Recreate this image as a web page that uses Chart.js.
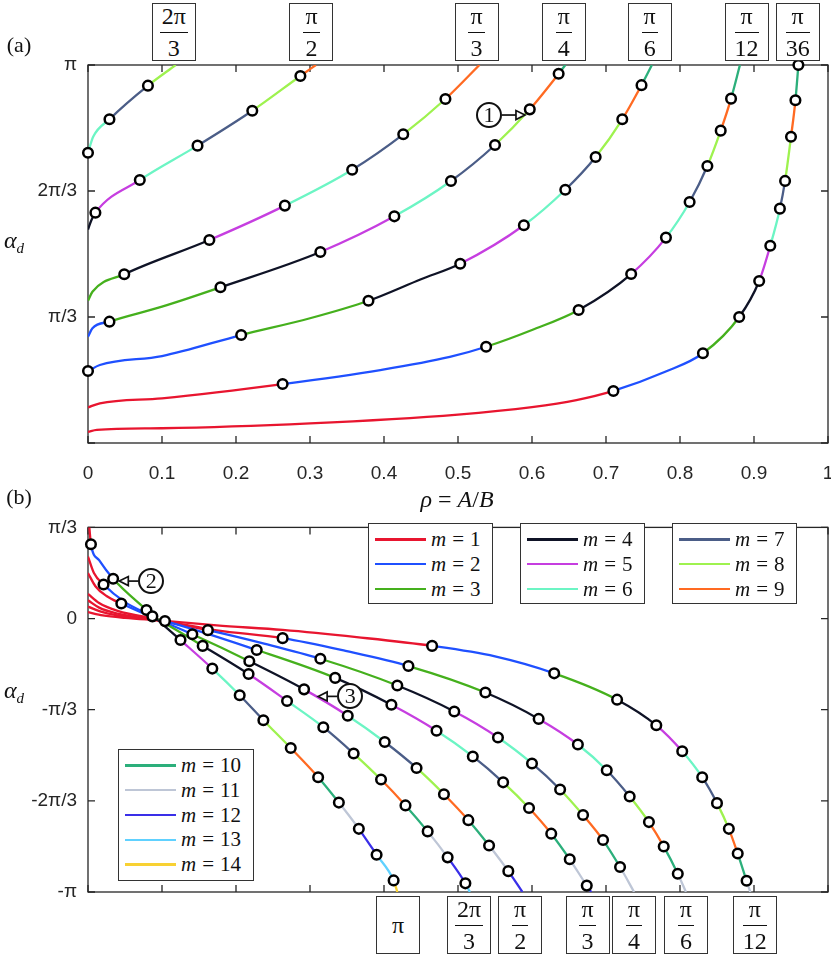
<!DOCTYPE html>
<html>
<head>
<meta charset="utf-8">
<title>alpha_d against rho</title>
<script src="https://cdn.jsdelivr.net/npm/chart.js@4.4.1/dist/chart.umd.min.js"></script>
<style>
  html, body { margin: 0; padding: 0; background: #fff; }
  body { position: relative; width: 831px; height: 955px; overflow: hidden; font-family: "Liberation Serif", "DejaVu Serif", serif; color: #111; }
  canvas { position: absolute; left: 0; }
  #chart-a { top: 0; }
  #chart-b { top: 505px; }
  .txt { position: absolute; white-space: nowrap; line-height: 1; transform: translate(-50%, -50%); }
  .box { position: absolute; width: 44px; height: 58px; border: 1.4px solid #333; background: #fff; box-sizing: border-box; display: flex; align-items: center; justify-content: center; font-size: 24px; }
  .fr { display: inline-flex; flex-direction: column; text-align: center; line-height: 1; }
  .fr .n { border-bottom: 1.3px solid #111; padding: 0 2px 4px; }
  .fr .d { padding-top: 3px; }
  .legend { position: absolute; border: 1.4px solid #333; background: #fff; box-sizing: border-box; padding-top: 3px; font-size: 21px; }
  .legend .row { height: 24.8px; display: flex; align-items: center; }
  .legend .swatch { width: 51px; height: 2.5px; margin: 0 5px 0 6px; }
  .legend .eq { margin: 0 6px; }
  .note { position: absolute; width: 26px; height: 26px; border: 2px solid #111; border-radius: 50%; box-sizing: border-box; display: flex; align-items: center; justify-content: center; font-size: 22px; background: #fff; }
</style>
</head>
<body>
<canvas id="chart-a" width="870" height="505"></canvas>
<canvas id="chart-b" width="870" height="450"></canvas>
<script>
// alpha_d is kept in units of pi/3, x is rho = A/B
// each point: [rho, alpha_d, m of the piece starting here, 1 = boundary marker]

// panel (a)
const a_2pi3 = [[0, 2.304, 6, 1], [0.007, 2.43, 6, 0], [0.029, 2.569, 7, 1], [0.081, 2.836, 8, 1], [0.1185, 3.0, 8, 0]];
const a_pi2 = [[0, 1.694, 4, 0], [0.004, 1.76, 4, 0], [0.01, 1.828, 5, 1], [0.07, 2.087, 6, 1], [0.148, 2.36, 7, 1],
  [0.222, 2.637, 8, 1], [0.287, 2.913, 9, 1], [0.308, 3.0, 9, 0]];
const a_pi3 = [[0, 1.129, 3, 0], [0.006, 1.2, 3, 0], [0.049, 1.339, 4, 1], [0.164, 1.611, 5, 1], [0.266, 1.884, 6, 1],
  [0.357, 2.169, 7, 1], [0.426, 2.45, 8, 1], [0.483, 2.73, 9, 1], [0.529, 3.0, 9, 0]];
const a_pi4 = [[0, 0.844, 2, 0], [0.006, 0.91, 2, 0], [0.029, 0.963, 3, 1], [0.1, 1.082, 3, 0], [0.179, 1.236, 4, 1],
  [0.314, 1.516, 5, 1], [0.414, 1.799, 6, 1], [0.4905, 2.079, 7, 1], [0.55, 2.365, 8, 1], [0.597, 2.648, 9, 1],
  [0.636, 2.93, 10, 1], [0.645, 3.0, 10, 0]];
const a_pi6 = [[0, 0.571, 2, 1], [0.016, 0.619, 2, 0], [0.1, 0.69, 2, 0], [0.207, 0.857, 3, 1], [0.3, 0.99, 3, 0],
  [0.379, 1.129, 4, 1], [0.45, 1.3, 4, 0], [0.503, 1.423, 5, 1], [0.589, 1.728, 6, 1], [0.645, 2.01, 7, 1],
  [0.686, 2.27, 8, 1], [0.722, 2.569, 9, 1], [0.748, 2.84, 10, 1], [0.762, 3.0, 10, 0]];
const a_pi12 = [[0, 0.283, 1, 0], [0.016, 0.315, 1, 0], [0.1, 0.355, 1, 0], [0.263, 0.468, 2, 1], [0.395, 0.579, 2, 0],
  [0.489, 0.683, 2, 0], [0.538, 0.764, 3, 1], [0.6, 0.897, 3, 0], [0.663, 1.056, 4, 1], [0.734, 1.341, 5, 1],
  [0.781, 1.63, 6, 1], [0.813, 1.913, 7, 1], [0.837, 2.198, 8, 1], [0.855, 2.479, 9, 1], [0.869, 2.733, 10, 1],
  [0.881, 3.0, 10, 0]];
const a_pi36 = [[0, 0.088, 1, 0], [0.012, 0.104, 1, 0], [0.1, 0.117, 1, 0], [0.3, 0.156, 1, 0], [0.5, 0.226, 1, 0],
  [0.6, 0.285, 1, 0], [0.66, 0.34, 1, 0], [0.71, 0.413, 2, 1], [0.78, 0.565, 2, 0], [0.831, 0.712, 3, 1],
  [0.88, 1.0, 4, 1], [0.907, 1.286, 5, 1], [0.922, 1.566, 6, 1], [0.935, 1.86, 7, 1], [0.942, 2.08, 8, 1],
  [0.95, 2.43, 9, 1], [0.956, 2.72, 10, 1], [0.96, 3.0, 11, 1]];

// panel (b)
const b_pi = [[0, 1.15, 1, 0], [0.0018, 1.0, 1, 0], [0.004, 0.815, 2, 1], [0.015, 0.64, 2, 0], [0.034, 0.436, 3, 1],
  [0.079, 0.094, 4, 1], [0.125, -0.236, 5, 1], [0.168, -0.549, 6, 1], [0.205, -0.841, 7, 1], [0.237, -1.115, 8, 1],
  [0.274, -1.421, 9, 1], [0.311, -1.741, 10, 1], [0.339, -2.019, 11, 1], [0.366, -2.307, 12, 1], [0.39, -2.592, 13, 1],
  [0.413, -2.873, 14, 1], [0.418, -3.0, 14, 0]];
const b_2pi3 = [[0, 0.68, 1, 0], [0.008, 0.5, 1, 0], [0.021, 0.373, 2, 1], [0.05, 0.18, 2, 0], [0.087, 0.024, 3, 1],
  [0.155, -0.3, 4, 1], [0.217, -0.609, 5, 1], [0.269, -0.904, 6, 1], [0.318, -1.192, 7, 1], [0.359, -1.481, 8, 1],
  [0.396, -1.766, 9, 1], [0.429, -2.05, 10, 1], [0.459, -2.335, 11, 1], [0.486, -2.62, 12, 1], [0.51, -2.905, 13, 1],
  [0.516, -3.0, 13, 0]];
const b_pi2 = [[0, 0.5, 1, 0], [0.01, 0.355, 1, 0], [0.025, 0.248, 1, 0], [0.045, 0.165, 2, 1], [0.141, -0.173, 3, 1],
  [0.218, -0.468, 4, 1], [0.292, -0.777, 5, 1], [0.351, -1.066, 6, 1], [0.401, -1.354, 7, 1], [0.444, -1.639, 8, 1],
  [0.481, -1.927, 9, 1], [0.514, -2.212, 10, 1], [0.542, -2.49, 11, 1], [0.568, -2.771, 12, 1], [0.587, -3.0, 12, 0]];
const b_pi3 = [[0, 0.27, 1, 0], [0.015, 0.17, 1, 0], [0.04, 0.085, 1, 0], [0.104, -0.028, 2, 1], [0.228, -0.345, 3, 1],
  [0.334, -0.651, 4, 1], [0.41, -0.946, 5, 1], [0.471, -1.231, 6, 1], [0.52, -1.513, 7, 1], [0.561, -1.797, 8, 1],
  [0.596, -2.078, 9, 1], [0.626, -2.36, 10, 1], [0.651, -2.641, 11, 1], [0.674, -2.93, 12, 1], [0.68, -3.0, 12, 0]];
const b_pi4 = [[0, 0.2, 1, 0], [0.015, 0.12, 1, 0], [0.04, 0.055, 1, 0], [0.1, -0.027, 1, 0], [0.162, -0.127, 2, 1],
  [0.238, -0.275, 2, 0], [0.314, -0.441, 3, 1], [0.418, -0.735, 4, 1], [0.495, -1.02, 5, 1], [0.554, -1.305, 6, 1],
  [0.6, -1.59, 7, 1], [0.638, -1.875, 8, 1], [0.669, -2.156, 9, 1], [0.696, -2.43, 10, 1], [0.719, -2.726, 11, 1],
  [0.738, -3.0, 11, 0]];
const b_pi6 = [[0, 0.13, 1, 0], [0.02, 0.07, 1, 0], [0.05, 0.02, 1, 0], [0.1, -0.025, 1, 0], [0.174, -0.13, 1, 0],
  [0.263, -0.215, 2, 1], [0.348, -0.355, 2, 0], [0.433, -0.521, 3, 1], [0.537, -0.812, 4, 1], [0.609, -1.101, 5, 1],
  [0.662, -1.382, 6, 1], [0.701, -1.664, 7, 1], [0.732, -1.952, 8, 1], [0.758, -2.233, 9, 1], [0.778, -2.5, 10, 1],
  [0.797, -2.8, 11, 1], [0.808, -3.0, 11, 0]];
const b_pi12 = [[0, 0.07, 1, 0], [0.02, 0.035, 1, 0], [0.05, 0.008, 1, 0], [0.1, -0.022, 1, 0], [0.174, -0.075, 1, 0],
  [0.263, -0.125, 1, 0], [0.363, -0.204, 1, 0], [0.465, -0.3, 2, 1], [0.55, -0.415, 2, 0], [0.63, -0.601, 3, 1],
  [0.715, -0.89, 4, 1], [0.768, -1.171, 5, 1], [0.803, -1.456, 6, 1], [0.83, -1.741, 7, 1], [0.85, -2.025, 8, 1],
  [0.866, -2.307, 9, 1], [0.878, -2.578, 10, 1], [0.89, -2.877, 11, 1], [0.895, -3.0, 11, 0]];

const panelA = [a_2pi3, a_pi2, a_pi3, a_pi4, a_pi6, a_pi12, a_pi36];
const panelB = [b_pi, b_2pi3, b_pi2, b_pi3, b_pi4, b_pi6, b_pi12];

// ticks
const xTickVals = [0, 0.1, 0.2, 0.3, 0.4, 0.5, 0.6, 0.7, 0.8, 0.9, 1];
const xTickLabels = ['0', '0.1', '0.2', '0.3', '0.4', '0.5', '0.6', '0.7', '0.8', '0.9', '1'];
const aYTickVals = [0, 1, 2, 3];
const aYTickLabels = ['', 'π/3', '2π/3', 'π'];
const bYTickVals = [-3, -2, -1, 0, 1];
const bYTickLabels = ['-π', '-2π/3', '-π/3', '0', 'π/3'];

// boxed curve labels (rho where each curve leaves the axes)
const topLabels = [['2π', '3'], ['π', '2'], ['π', '3'], ['π', '4'], ['π', '6'], ['π', '12'], ['π', '36']];
const topLabelRho = [0.116, 0.302, 0.525, 0.643, 0.759, 0.89, 0.959];
const bottomLabels = [['π'], ['2π', '3'], ['π', '2'], ['π', '3'], ['π', '4'], ['π', '6'], ['π', '12']];
const bottomLabelRho = [0.419, 0.515, 0.584, 0.675, 0.738, 0.808, 0.901];

// numbered call-outs: arrow tip in data units
const noteText = ['1', '2', '3'];
const notePanel = ['a', 'b', 'b'];
const noteRho = [0.5905, 0.0423, 0.311];
const noteAlpha = [2.603, 0.411, -0.854];

const mColors = ['#e8152f', '#1f50ff', '#45b01d', '#0f1326', '#c63ee0', '#6cf5c4', '#4b5d87',
  '#9ef24f', '#ff6a22', '#2caf7b', '#bec6d6', '#3a2fe8', '#60d1ff', '#f8d133'];
const legendGroups = [[1, 2, 3], [4, 5, 6], [7, 8, 9], [10, 11, 12, 13, 14]];

const NOTE_DX = [-36, 32, 32];
const AXIS_COLOR = '#262626';
const tickFont = { family: '"Liberation Sans", Arial, sans-serif', size: 19 };

// box round the axes and inward ticks on all four sides
const frame = {
  id: 'frame',
  beforeDatasetsDraw(chart) {
    const { ctx, chartArea: { left, right, top, bottom }, scales: { x, y } } = chart;
    ctx.save();
    ctx.strokeStyle = AXIS_COLOR;
    ctx.lineWidth = 1.3;
    ctx.strokeRect(left, top, right - left, bottom - top);
    ctx.beginPath();
    x.ticks.forEach(t => {
      const px = x.getPixelForValue(t.value);
      ctx.moveTo(px, bottom); ctx.lineTo(px, bottom - 7);
      ctx.moveTo(px, top); ctx.lineTo(px, top + 7);
    });
    y.ticks.forEach(t => {
      const py = y.getPixelForValue(t.value);
      ctx.moveTo(left, py); ctx.lineTo(left + 7, py);
      ctx.moveTo(right, py); ctx.lineTo(right - 7, py);
    });
    ctx.stroke();
    ctx.restore();
  }
};

// arrows of the numbered call-outs
const notes = {
  id: 'notes',
  afterDatasetsDraw(chart, args, opts) {
    const { ctx, scales: { x, y } } = chart;
    ctx.save();
    ctx.strokeStyle = '#111';
    ctx.lineWidth = 1.7;
    noteText.forEach((t, i) => {
      if (notePanel[i] !== opts.panel) return;
      const tx = x.getPixelForValue(noteRho[i]);
      const ty = y.getPixelForValue(noteAlpha[i] * Math.PI / 3);
      const s = Math.sign(NOTE_DX[i]);
      const cx = tx + NOTE_DX[i];
      ctx.beginPath();
      ctx.moveTo(cx - s * 13, ty);
      ctx.lineTo(tx + s * 9, ty);
      ctx.stroke();
      ctx.beginPath();
      ctx.moveTo(tx, ty);
      ctx.lineTo(tx + s * 9, ty - 4.5);
      ctx.lineTo(tx + s * 9, ty + 4.5);
      ctx.closePath();
      ctx.fillStyle = '#fff';
      ctx.fill();
      ctx.stroke();
    });
    ctx.restore();
  }
};

const curveSets = (curves) => {
  const sets = curves.map(pts => {
    const ms = pts.map(p => p[2]);
    return {
      data: pts.map(p => ({ x: p[0], y: p[1] * Math.PI / 3 })),
      borderColor: mColors[ms[0] - 1],
      borderWidth: 2.3,
      pointRadius: 0,
      cubicInterpolationMode: 'monotone',
      segment: { borderColor: c => mColors[ms[c.p0DataIndex] - 1] },
      order: 1
    };
  });
  const marks = [];
  curves.forEach(pts => pts.forEach(p => {
    if (p[3]) marks.push({ x: p[0], y: p[1] * Math.PI / 3 });
  }));
  sets.push({
    data: marks,
    showLine: false,
    pointRadius: 4.8,
    pointBorderWidth: 2.5,
    pointBorderColor: '#000',
    pointBackgroundColor: '#fff',
    clip: false,
    order: 0
  });
  return sets;
};

const makeChart = (id, curves, yVals, yLabels, yMin, yMax, showX, padding, xHeight, panel) =>
  new Chart(document.getElementById(id), {
    type: 'line',
    data: { datasets: curveSets(curves) },
    options: {
      responsive: false,
      animation: false,
      events: [],
      layout: { padding: padding },
      plugins: { legend: { display: false }, tooltip: { enabled: false }, notes: { panel: panel } },
      scales: {
        x: {
          type: 'linear', min: 0, max: 1,
          grid: { display: false, drawTicks: false },
          border: { display: false },
          afterBuildTicks: s => { s.ticks = xTickVals.map(v => ({ value: v })); },
          afterFit: s => { s.height = xHeight; },
          ticks: {
            display: showX, padding: 19, font: tickFont, color: AXIS_COLOR,
            maxRotation: 0, autoSkip: false, callback: (v, i) => xTickLabels[i]
          }
        },
        y: {
          type: 'linear', min: yMin, max: yMax,
          grid: { display: false, drawTicks: false },
          border: { display: false },
          afterBuildTicks: s => { s.ticks = yVals.map(v => ({ value: v * Math.PI / 3 })); },
          afterFit: s => { s.width = 88; },
          ticks: { padding: 11, font: tickFont, color: AXIS_COLOR, autoSkip: false, callback: (v, i) => yLabels[i] }
        }
      }
    },
    plugins: [frame, notes]
  });

const chartA = makeChart('chart-a', panelA, aYTickVals, aYTickLabels, 0, Math.PI, true,
  { left: 0, top: 65, right: 42, bottom: 0 }, 62, 'a');
const chartB = makeChart('chart-b', panelB, bYTickVals, bYTickLabels, -Math.PI, Math.PI / 3, false,
  { left: 0, top: 7, right: 42, bottom: 0 }, 63, 'b');
const B_TOP = 505;

// ---- html text round the charts ----
const addEl = (cls, html, left, top) => {
  const d = document.createElement('div');
  d.className = cls;
  d.innerHTML = html;
  d.style.left = left + 'px';
  d.style.top = top + 'px';
  document.body.appendChild(d);
  return d;
};

const fracHtml = parts => parts.length === 1
  ? `<span>${parts[0]}</span>`
  : `<span class="fr"><span class="n">${parts[0]}</span><span class="d">${parts[1]}</span></span>`;

topLabels.forEach((p, i) => {
  addEl('box', fracHtml(p), chartA.scales.x.getPixelForValue(topLabelRho[i]) - 22, 3);
});
bottomLabels.forEach((p, i) => {
  addEl('box', fracHtml(p), chartB.scales.x.getPixelForValue(bottomLabelRho[i]) - 22, 896);
});

noteText.forEach((t, i) => {
  const ch = notePanel[i] === 'a' ? chartA : chartB;
  const off = notePanel[i] === 'a' ? 0 : B_TOP;
  const cx = ch.scales.x.getPixelForValue(noteRho[i]) + NOTE_DX[i];
  const cy = ch.scales.y.getPixelForValue(noteAlpha[i] * Math.PI / 3) + off;
  addEl('note', t, cx - 13, cy - 13);
});

addEl('txt', '(a)', 19, 45).style.fontSize = '22px';
addEl('txt', '(b)', 19, 497).style.fontSize = '22px';
addEl('txt', '<i>α</i><sub style="font-size:15px"><i>d</i></sub>', 14, 242).style.fontSize = '24px';
addEl('txt', '<i>α</i><sub style="font-size:15px"><i>d</i></sub>', 14, 692).style.fontSize = '24px';
addEl('txt', '<i>ρ</i> = <i>A</i>/<i>B</i>', 457, 499).style.fontSize = '24px';

// legend boxes
const legendPos = [[368, 523, 125, 81], [520, 523, 125, 81], [672, 523, 125, 81], [118, 749, 136, 132]];
legendGroups.forEach((g, k) => {
  const rows = g.map(m => `<div class="row"><span class="swatch" style="background:${mColors[m - 1]}"></span>` +
    `<span><i>m</i><span class="eq">=</span>${m}</span></div>`).join('');
  const d = addEl('legend', rows, legendPos[k][0], legendPos[k][1]);
  d.style.width = legendPos[k][2] + 'px';
  d.style.height = legendPos[k][3] + 'px';
});
</script>
</body>
</html>
